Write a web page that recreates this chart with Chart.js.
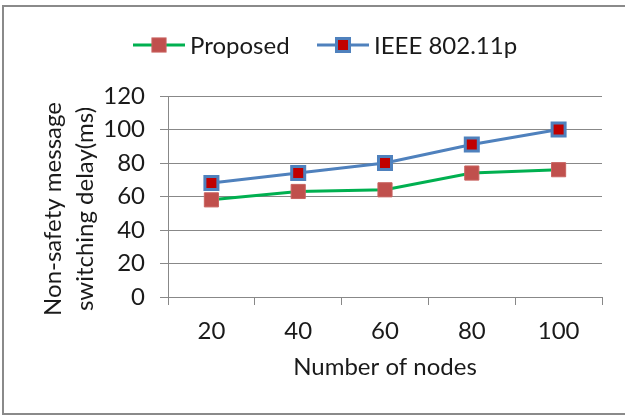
<!DOCTYPE html>
<html>
<head>
<meta charset="utf-8">
<script src="https://cdn.jsdelivr.net/npm/chart.js@4/dist/chart.umd.min.js"></script>
<style>
  html, body { margin: 0; padding: 0; background: #fff; }
  #wrap { position: relative; width: 625px; height: 417px; overflow: hidden; }
  #frame { position: absolute; left: 2px; top: 5px; width: 700px; height: 410px;
           border: 2px solid #8a8a8a; box-sizing: border-box; pointer-events: none; }
  canvas { position: absolute; left: 0; top: 0; }
</style>
</head>
<body>
<div id="wrap">
  <canvas id="chart" width="625" height="417"></canvas>
  <div id="frame"></div>
</div>
<script>
// Number of nodes on the x axis
const nodes = ['20', '40', '60', '80', '100'];
// Switching delay (ms) per scheme
const proposed = [58, 63, 64, 74, 76];
const ieee80211p = [68, 74, 80, 91, 100];
// Y axis range
const yMin = 0, yMax = 120, yStep = 20;

const FONT = 'Lato, "Open Sans", "Liberation Sans", sans-serif';
const TEXT = '#1a1a1a';
const GRID = '#888888';

// Legend (line with marker) and the two-line y-axis title
const extras = {
  id: 'extras',
  afterDraw(chart) {
    const ctx = chart.ctx;
    ctx.save();
    ctx.font = '24px ' + FONT;
    ctx.fillStyle = TEXT;
    ctx.textBaseline = 'middle';

    // legend items start at fixed offsets
    const ds = chart.data.datasets;
    const starts = [133, 317];
    const lineLen = 52, gap = 5;
    const y = 45;
    ds.forEach((d, i) => {
      const x = starts[i];
      ctx.strokeStyle = d.borderColor;
      ctx.lineWidth = d.borderWidth;
      ctx.beginPath();
      ctx.moveTo(x, y);
      ctx.lineTo(x + lineLen, y);
      ctx.stroke();
      ctx.fillStyle = d.pointBackgroundColor;
      ctx.strokeStyle = d.pointBorderColor;
      ctx.lineWidth = d.pointBorderWidth;
      const s = Math.SQRT1_2 * d.pointRadius;
      ctx.fillRect(x + lineLen / 2 - s, y - s, 2 * s, 2 * s);
      ctx.strokeRect(x + lineLen / 2 - s, y - s, 2 * s, 2 * s);
      ctx.fillStyle = TEXT;
      ctx.textAlign = 'left';
      ctx.fillText(d.label, x + lineLen + gap, y + 1);
    });

    // y-axis title
    ctx.translate(0, 209);
    ctx.rotate(-Math.PI / 2);
    ctx.textAlign = 'center';
    ctx.fillText('Non-safety message', 0, 53);
    ctx.fillText('switching delay(ms)', 0, 85);
    ctx.restore();
  }
};

new Chart(document.getElementById('chart'), {
  type: 'line',
  data: {
    labels: nodes,
    datasets: [
      {
        label: 'Proposed',
        data: proposed,
        borderColor: '#00B050',
        borderWidth: 3,
        tension: 0,
        pointStyle: 'rect',
        pointRadius: 10,
        pointBorderWidth: 1,
        pointBackgroundColor: '#C0504D',
        pointBorderColor: '#C96461'
      },
      {
        label: 'IEEE 802.11p',
        data: ieee80211p,
        borderColor: '#4F81BD',
        borderWidth: 3,
        tension: 0,
        pointStyle: 'rect',
        pointRadius: 9.2,
        pointBorderWidth: 3,
        pointBackgroundColor: '#C00000',
        pointBorderColor: '#4F81BD'
      }
    ]
  },
  options: {
    responsive: false,
    animation: false,
    events: [],
    layout: { padding: { top: 96, right: 23, bottom: 0, left: 0 } },
    plugins: {
      legend: { display: false },
      tooltip: { enabled: false }
    },
    scales: {
      x: {
        type: 'category',
        offset: true,
        afterFit(scale) { scale.height = 120; },
        grid: { offset: true, drawOnChartArea: false, drawTicks: true, tickLength: 8, color: GRID },
        border: { color: GRID, width: 1 },
        ticks: { color: TEXT, font: { family: FONT, size: 24 }, padding: 12, maxRotation: 0 },
        title: {
          display: true, text: 'Number of nodes', color: TEXT,
          font: { family: FONT, size: 24 }, padding: { top: 0, bottom: 35 }
        }
      },
      y: {
        min: yMin, max: yMax,
        afterFit(scale) { scale.width = 168; },
        grid: { color: GRID, tickLength: 8 },
        border: { color: GRID, width: 1 },
        ticks: { stepSize: yStep, color: TEXT, font: { family: FONT, size: 24 }, padding: 15 }
      }
    }
  },
  plugins: [extras]
});
</script>
</body>
</html>
